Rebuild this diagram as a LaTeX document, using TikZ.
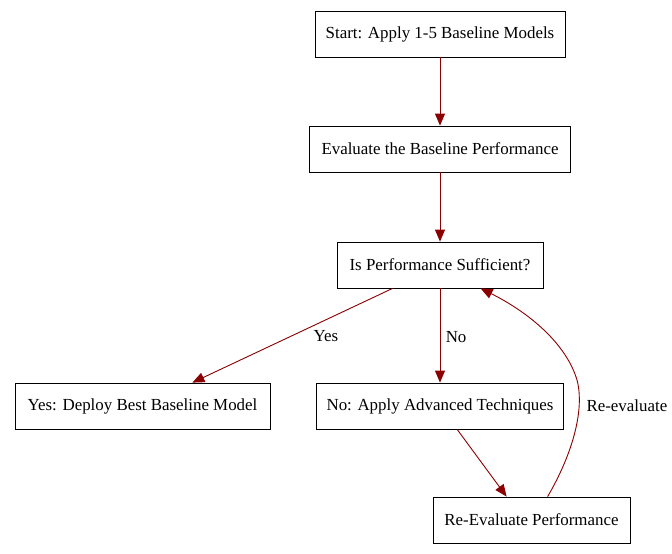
\documentclass[tikz,border=0pt]{standalone}
\usepackage{fontspec}
\setmainfont{Liberation Serif}
\usetikzlibrary{arrows.meta}

\definecolor{edgered}{HTML}{8B0000}

\begin{document}
\begin{tikzpicture}[x=1pt,y=-1pt]
\tikzstyle{every node}+=[font=\fontsize{16.9}{19}\selectfont]
\tikzstyle{box}=[draw=black,line width=0.8pt,minimum height=46pt,inner xsep=10pt]
\tikzstyle{flow}=[draw=edgered,line width=0.9pt,-{Triangle[length=12pt,width=10pt]}]
\useasboundingbox (0,0) rectangle (672,554);
\node [box,minimum width=250pt] (start) at (440,34) {Start: Apply 1-5 Baseline Models};
\node [box,minimum width=261pt] (evalbase) at (440,149) {Evaluate the Baseline Performance};
\node [box,minimum width=206pt] (suff) at (440,265) {Is Performance Sufficient?};
\node [box,minimum width=255pt] (deploy) at (142.5,406) {Yes: Deploy Best Baseline Model};
\node [box,minimum width=246pt] (advanced) at (440,406) {No: Apply Advanced Techniques};
\node [box,minimum width=197pt] (reeval) at (531.5,520) {Re-Evaluate Performance};
\draw [flow] (start) -- (evalbase);
\draw [flow] (evalbase) -- (suff);
\path (suff.south west) ++(56,0) coordinate (yesout);
\path (deploy.north east) ++(-78,0) coordinate (yesin);
\draw [flow] (yesout) -- (yesin);
\draw [flow] (suff) -- node [right,pos=0.5,xshift=2pt,yshift=-2pt] {No} (advanced);
\path (advanced.south west) ++(141,0) coordinate (toout);
\path (reeval.north west) ++(74,0) coordinate (toin);
\draw [flow] (toout) -- (toin);
\path (reeval.north west) ++(115,0) coordinate (backout);
\path (suff.south west) ++(144,0) coordinate (backin);
\draw [flow] (backout) .. controls (572,455) and (585,410) .. (577,380)
  .. controls (566,343) and (528,312) .. (backin);
\node [anchor=west] (relabel) at (583,406) {Re-evaluate};
\node (yeslabel) at (326,336) {Yes};
\end{tikzpicture}
\end{document}
